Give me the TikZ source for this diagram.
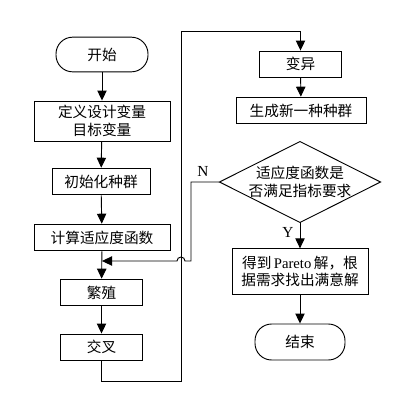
\documentclass[tikz,border=0pt]{standalone}
\usepackage{fontspec}
\setmainfont{Liberation Serif}
\newfontfamily\cjk{Noto Sans CJK SC}
\usetikzlibrary{arrows.meta}

\begin{document}
\begin{tikzpicture}[x=0.75pt,y=-0.75pt,line width=0.7pt,
    box/.style={draw,inner sep=0pt,align=center,font=\cjk\fontsize{11}{13}\selectfont},
    term/.style={box,rounded corners=12.5pt},
    arr/.style={-{Triangle[length=7.5pt,width=7pt]}},
    tag/.style={font=\fontsize{11.5}{13}\selectfont}]
    \useasboundingbox (0,0) rectangle (417,404);
    % left column
    \node[term,minimum width=69pt,minimum height=26pt] (start) at (102,54.5) {开始};
    \node[box,minimum width=102pt,minimum height=30pt] (define) at (102,121) {定义设计变量\\目标变量};
    \node[box,minimum width=73.5pt,minimum height=20pt] (init) at (101,181.5) {初始化种群};
    \node[box,minimum width=102pt,minimum height=20pt] (fitness) at (102,237.5) {计算适应度函数};
    \node[box,minimum width=61pt,minimum height=20pt] (breed) at (101.5,292.5) {繁殖};
    \node[box,minimum width=61pt,minimum height=19.5pt] (cross) at (101.5,347) {交叉};
    % right column
    \node[box,minimum width=61pt,minimum height=19.5pt] (mutate) at (300.5,64) {变异};
    \node[box,minimum width=97.5pt,minimum height=20pt] (newpop) at (301,110.5) {生成新一种种群};
    \node[box,draw=none,minimum width=120pt,minimum height=60pt] (judge) at (300,182) {适应度函数是\\否满足指标要求};
    \draw (judge.north) -- (judge.east) -- (judge.south) -- (judge.west) -- cycle;
    \node[box,minimum width=102pt,minimum height=34pt] (pareto) at (300,271.5) {得到{\rmfamily\,Pareto\,}解，根\\据需求找出满意解};
    \node[term,minimum width=67.5pt,minimum height=27pt] (finish) at (300,342) {结束};
    % corners
    \coordinate (merge) at (102,261);
    \coordinate (loopB) at (181,381);
    \coordinate (loopT) at (181,31);
    \coordinate (backR) at (191,182);
    % connectors
    \draw[arr] (start) -- (define);
    \draw[arr] (define) -- (init);
    \draw[arr] (init) -- (fitness);
    \draw[arr] (fitness) -- (breed);
    \draw[arr] (breed) -- (cross);
    \draw[arr] (cross.south) |- (loopB) -- (loopT) -| (mutate.north);
    \draw[arr] (mutate) -- (newpop);
    \draw[arr] (judge.west) -- (backR) |- (185,261) arc (0:-180:4) -- (merge);
    \draw[arr] (judge.south) -- (pareto);
    \draw[arr] (pareto) -- (finish);
    \node[tag] (nlabel) at (203,171) {N};
    \node[tag] (ylabel) at (288,232) {Y};
\end{tikzpicture}
\end{document}
